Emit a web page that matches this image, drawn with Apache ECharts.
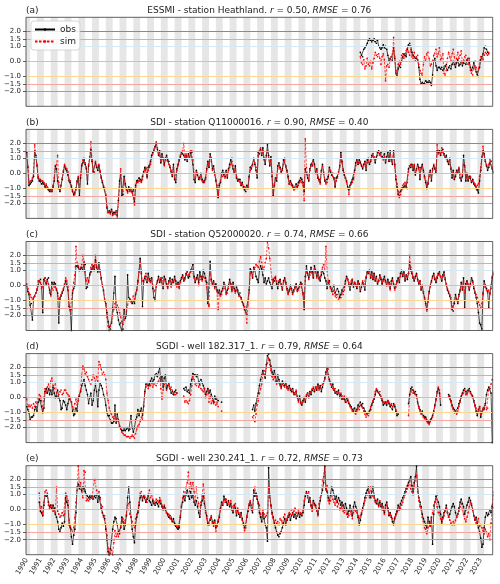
<!DOCTYPE html>
<html><head><meta charset="utf-8">
<script src="https://cdn.jsdelivr.net/npm/echarts@6/dist/echarts.min.js"></script>
<style>html,body{margin:0;padding:0;background:#fff}#c{width:500px;height:584px}</style>
</head><body><div id="c"></div>
<script>
// ---------------- data ----------------
const years = [1990,1991,1992,1993,1994,1995,1996,1997,1998,1999,2000,2001,2002,2003,2004,2005,2006,2007,2008,2009,2010,2011,2012,2013,2014,2015,2016,2017,2018,2019,2020,2021,2022,2023];
const panelLetters = ['(a)','(b)','(c)','(d)','(e)'];
const panelNames = ['ESSMI - station Heathland.','SDI - station Q11000016.','SDI - station Q52000020.','SGDI - well 182.317_1.','SGDI - well 230.241_1.'];
const rValues = ['0.50','0.90','0.74','0.79','0.72'];
const rmseValues = ['0.76','0.40','0.66','0.64','0.73'];
const yTickValues = [-2,-1.5,-1,0,1,1.5,2];
const thresholdLevels = [2,1.5,1,0,-1,-1.5,-2];
const legendNames = ['obs','sim'];

// panel (a) starts April 2014 (monthly)
const startA = [2014,4];
const obsA = [0.6,0.4,0.3,0.8,0.9,1.0,1.2,1.4,1.5,1.4,1.3,1.4,
1.5,1.3,1.2,1.4,1.0,0.9,0.8,0.9,1.1,0.9,1.0,0.8,
0.4,0.0,0.2,0.3,0.0,1.0,0.2,-0.8,-1.0,-0.5,-0.3,-0.4,
0.0,0.3,0.5,0.4,0.3,0.8,1.1,1.2,1.0,0.6,0.4,0.3,
0.2,0.2,0.1,-0.4,-1.2,-1.5,-1.4,-1.5,-1.5,-1.3,-1.4,-1.4,
-1.3,-1.4,-1.6,-0.9,0.0,0.2,-0.3,-0.6,-0.4,-0.4,-0.5,-0.4,
-0.6,-0.5,-0.3,-0.2,-0.6,-0.4,-0.3,-0.5,-0.2,0.0,-0.2,-0.4,
-0.1,0.1,-0.3,-0.2,0.0,-0.3,-0.1,0.0,-0.2,0.1,0.2,-0.1,
-0.4,-0.6,-0.4,-0.1,0.0,-0.7,-0.9,-1.0,-0.4,0.1,0.3,0.5,
0.9,1.0,0.8,0.6,0.5];
const simA = [0.3,-0.1,-0.2,0.1,-0.5,-0.3,0.2,-0.2,-0.3,0.0,-0.5,-0.1,
0.2,0.6,0.4,0.3,0.5,0.2,-0.2,0.3,0.5,0.1,-1.3,-0.3,
-0.2,-0.4,0.1,0.3,0.5,1.6,0.3,-0.8,-0.6,-0.2,0.0,-0.2,
0.4,0.5,0.2,0.5,0.7,1.0,0.6,0.4,0.8,0.3,0.2,0.6,
0.0,0.3,0.4,-0.2,-0.6,-0.8,-1.0,-0.2,0.3,0.0,0.5,0.6,
0.2,-0.3,-0.2,0.0,0.4,0.5,0.8,0.3,0.5,0.9,0.1,0.2,
0.5,-0.8,-1.0,-0.6,0.2,0.6,0.3,0.0,0.5,0.8,0.3,-0.2,
0.2,0.6,0.2,0.4,0.7,-0.1,0.0,0.3,0.4,0.0,-0.2,0.2,
-0.6,-0.8,-0.9,-0.5,-0.3,-0.4,-0.7,-0.5,0.0,0.3,0.2,0.1,
0.4,0.6,0.5,0.4,0.6];

// panels (b)-(e): monthly Jan 1990 - Dec 2023, one row per year
const obsB = [
1.4,0.4,-0.8,-0.7,-0.6,-0.5,-0.2,1.5,1.2,0.5,-0.3,-0.5,
-0.5,-0.7,-0.6,-0.7,-0.9,-0.8,-1.0,-1.1,-1.2,-1.1,-1.2,-0.9,
-0.5,0.5,0.3,-0.5,-1.0,-1.2,-0.8,-0.4,0.1,0.5,0.3,0.2,
-0.1,-0.5,-0.6,-0.9,-1.2,-1.4,-1.3,-1.0,-0.5,-0.3,-1.5,-0.3,
0.5,0.7,0.9,0.6,0.3,-0.7,0.5,1.0,1.6,0.8,0.1,0.0,
0.7,0.4,0.2,0.5,0.1,-0.3,-0.6,-0.9,-1.0,-1.5,-2.3,-2.6,
-2.5,-2.6,-2.4,-2.7,-2.6,-2.6,-2.5,-2.8,-1.8,-0.5,0.0,-1.5,
-1.4,-0.2,-0.7,-1.0,-1.2,-0.9,-1.1,-1.0,-1.2,-1.1,-1.9,-0.8,
-0.5,-0.5,-0.3,-0.4,-0.5,-0.2,0.1,0.4,0.3,-0.2,0.4,0.5,
0.8,1.2,1.4,1.5,1.8,2.0,1.6,1.2,1.5,0.7,1.3,1.0,
0.6,1.0,1.2,0.9,0.8,0.4,0.1,-0.2,0.6,-0.4,-0.6,0.3,
0.6,0.9,1.1,1.4,1.3,1.2,0.9,1.2,0.8,1.3,1.0,1.4,
1.4,0.6,-0.4,-0.6,0.2,-0.1,-0.4,-0.3,0.0,-0.4,-0.6,-0.5,
-0.3,0.3,0.8,0.4,1.3,1.0,0.3,0.5,0.0,-0.5,-1.0,-1.6,
-0.8,-0.6,0.0,0.2,-0.1,-0.2,0.2,-0.3,0.3,0.6,0.9,1.0,
0.3,0.0,0.5,-0.3,-0.5,-0.4,-0.4,-0.8,-0.6,-0.9,-1.1,-1.2,
-0.8,-1.0,-0.2,0.4,0.3,0.6,1.0,0.6,0.2,-0.3,1.4,1.3,
1.6,1.2,1.7,1.0,0.6,1.2,1.9,1.2,0.5,1.1,-0.2,-1.5,
-0.8,-0.3,-0.5,0.5,0.7,0.4,0.1,0.3,0.9,1.0,0.5,0.2,
-0.2,-0.7,-0.5,-0.7,-0.8,-1.0,-1.0,-0.7,-0.9,-0.6,-0.5,-0.3,
-0.4,-0.6,-1.2,0.3,0.0,-0.3,-0.5,0.3,0.6,0.5,0.9,0.6,
0.0,0.3,-0.3,-0.4,-0.6,0.2,0.6,0.0,-0.5,-0.6,-0.4,-0.2,
0.4,0.1,-0.1,0.0,-0.3,-0.9,-0.3,-0.2,0.0,0.5,1.4,0.8,
0.2,-0.1,-0.3,-0.5,-0.9,-1.1,-0.8,-0.6,-0.4,-0.3,0.2,0.7,
0.9,0.6,0.9,0.7,0.5,0.3,0.6,0.8,0.2,0.9,1.0,0.6,
0.8,1.2,1.3,1.0,0.7,1.1,1.4,1.5,1.3,1.4,1.1,1.0,
1.3,0.7,1.1,1.4,0.8,1.5,0.9,0.6,1.5,0.6,-0.4,-0.9,
-1.4,-1.5,-1.2,-1.0,-1.0,-0.9,-0.8,-0.9,-1.0,0.3,0.5,0.4,
0.6,0.2,0.5,-0.1,0.3,0.6,0.4,-0.4,0.4,0.6,0.2,-0.2,
-0.6,-1.0,-0.7,0.0,0.2,-0.5,0.3,0.5,0.3,0.0,1.5,1.4,
1.5,1.2,1.5,1.6,1.3,1.0,1.2,0.8,0.6,1.0,0.3,-0.3,
0.2,-0.4,-0.2,0.2,0.0,0.3,-0.3,-0.5,-0.2,1.2,0.5,-0.5,
0.0,-0.5,-0.2,-0.3,-0.6,-0.4,-0.7,-0.8,-1.0,-1.1,-1.3,-0.5,
0.2,1.0,1.5,1.3,0.8,0.5,0.2,0.4,0.7,0.8,0.3,0.0];
const simB = [
1.3,0.5,-0.6,-0.5,-0.5,-0.3,0.0,1.9,1.0,0.6,-0.2,-0.4,
-0.4,-0.5,-0.5,-0.6,-0.8,-0.7,-0.9,-1.0,-1.1,-1.2,-1.1,-0.8,
-0.3,0.3,0.6,1.2,-0.6,-1.1,-0.8,-0.3,0.2,0.6,0.4,0.3,
0.1,-0.4,-0.5,-0.8,-1.1,-1.5,-1.4,-1.1,-0.6,-0.2,-1.0,-0.1,
0.6,0.9,1.0,0.7,0.4,-0.4,0.6,1.1,2.1,0.9,0.2,0.1,
0.8,0.5,0.4,0.6,0.2,-0.2,-0.5,-0.8,-1.0,-1.4,-2.2,-2.6,
-2.6,-2.7,-2.5,-2.8,-2.7,-2.7,-2.6,-2.9,-2.0,-0.7,0.3,-1.0,
-1.2,-0.4,-0.8,-1.1,-1.3,-1.0,-1.2,-1.1,-1.3,-1.2,-2.1,-0.9,
-0.6,-0.6,-0.5,-0.5,-0.6,-0.4,0.0,0.2,0.4,-0.3,0.2,0.4,
0.6,1.0,1.3,1.6,1.7,2.1,1.7,1.3,1.2,0.8,1.1,0.9,
0.5,0.9,1.0,0.8,0.6,0.5,0.2,-0.1,0.4,-0.3,-0.4,0.2,
0.5,0.8,1.2,1.3,1.5,2.0,1.1,1.3,0.9,1.2,1.1,1.5,
1.5,0.9,0.0,-0.4,0.1,0.0,-0.3,-0.4,-0.2,-0.5,-0.5,-0.6,
-0.4,0.2,0.7,0.5,1.1,0.8,0.2,0.3,-0.1,-0.4,-0.8,-1.4,
-0.7,-0.5,-0.1,-0.2,0.0,-0.3,0.0,-0.2,0.2,0.4,0.6,0.8,
0.5,0.1,0.3,-0.2,-0.4,-0.5,-0.6,-0.7,-0.7,-1.0,-0.9,-1.0,
-1.0,-0.9,-0.3,0.2,0.4,0.5,0.9,0.7,0.4,0.0,1.2,1.5,
1.7,1.3,1.5,0.9,0.8,1.0,1.5,1.0,0.6,0.9,0.0,-1.3,
-0.7,-0.4,-0.3,0.3,0.5,0.3,0.0,0.2,0.6,0.9,0.4,0.1,
-0.3,-0.7,-0.6,-0.8,-0.9,-1.1,-1.0,-0.9,-1.0,-0.8,-0.6,-0.5,
-0.6,-0.8,-1.8,2.3,0.4,-0.1,-0.4,0.2,0.5,0.6,0.8,0.5,
0.1,0.2,-0.2,-0.5,-0.7,0.1,0.5,0.1,-0.4,-0.7,-0.6,-0.3,
0.3,0.2,0.0,-0.2,-0.4,-0.8,-0.5,-0.3,0.1,0.4,1.2,0.7,
0.3,0.0,-0.3,-0.6,-1.0,-1.4,-1.0,-0.7,-0.6,-0.4,0.0,0.5,
0.8,0.7,0.7,0.8,0.6,0.4,0.5,0.7,0.4,0.7,0.9,0.7,
0.9,1.0,1.2,1.1,0.9,1.0,1.2,1.4,1.2,1.3,1.0,0.9,
1.1,0.8,1.0,1.2,0.9,1.3,0.8,0.7,1.3,0.5,-0.2,-0.7,
-1.2,-1.6,-1.4,-1.1,-0.8,-0.7,-0.6,-0.8,-0.6,0.1,0.5,0.6,
0.5,0.4,0.6,0.0,0.2,0.5,0.3,-0.2,0.3,0.5,0.1,-0.3,
-0.5,-0.8,-0.6,-0.2,0.1,-0.3,0.2,0.6,0.4,0.2,1.9,1.3,
1.4,1.3,1.7,1.4,1.2,1.1,1.0,0.9,0.8,0.9,0.4,0.0,
0.0,-0.3,0.0,0.1,0.2,0.4,0.0,-0.3,-0.1,0.6,0.4,-0.3,
-0.1,-0.4,-0.3,-0.2,-0.5,-0.5,-0.6,-0.7,-0.9,-0.8,-0.7,-0.2,
0.4,1.1,1.8,1.2,0.9,0.6,0.4,0.6,0.9,0.8,0.4,0.1];
const obsC = [
0.0,-0.4,-0.6,-1.3,-1.2,-2.3,-0.8,-0.7,-0.5,-0.3,0.0,0.3,
0.4,0.0,-1.8,0.4,0.5,0.1,0.4,0.5,-0.3,-0.6,0.2,0.0,
0.2,0.1,-0.3,-0.5,-2.5,-0.9,-0.7,-0.5,-0.3,0.0,0.3,0.0,
-0.3,-1.4,-1.6,-3.0,-0.5,-0.2,0.0,1.3,1.3,1.2,1.0,1.1,
1.2,1.0,1.5,1.4,-0.2,-0.1,0.3,0.7,0.9,1.1,1.3,1.0,
1.7,1.2,0.9,1.5,1.0,0.5,0.0,-0.3,-1.0,-1.2,-1.8,-2.4,
-2.8,-2.9,-2.5,-1.5,-0.5,0.6,-1.5,-1.8,-2.3,-2.6,-2.5,-3.0,
-2.9,-1.6,-2.2,-2.0,0.7,-0.8,-0.9,-1.0,-1.2,-1.0,-1.2,-0.6,
-0.3,0.3,1.0,1.8,0.8,-1.4,0.3,0.5,0.6,0.2,0.8,0.4,
0.3,0.5,-0.2,-0.8,-1.0,0.0,0.3,0.6,0.2,0.4,0.5,-0.2,
0.6,0.4,0.1,-0.1,0.3,0.5,0.0,0.4,0.2,0.6,0.3,0.0,
0.2,-0.1,0.3,0.5,0.7,0.3,0.5,0.8,0.9,0.5,0.6,1.0,
1.0,1.4,0.6,0.2,0.5,0.7,0.2,0.9,0.6,0.4,1.0,0.8,
0.5,0.2,-1.2,-1.3,1.6,0.4,0.1,0.3,-0.1,0.1,-0.3,-0.5,
-0.3,-0.6,-0.4,-0.2,0.2,0.0,-0.5,-0.3,0.0,0.4,0.1,-0.3,
0.2,-0.2,-0.4,-0.1,-0.3,-0.6,-0.5,-0.8,-1.1,-1.3,-1.6,-1.8,
-1.9,-1.0,-0.3,1.1,0.9,0.5,1.2,1.0,0.6,0.4,0.2,1.0,
1.3,1.1,0.7,0.2,0.5,0.1,0.3,0.5,0.2,0.0,-0.2,0.4,
0.3,0.5,0.1,-0.2,0.2,0.4,0.0,-0.3,0.3,0.5,0.2,-0.2,
-0.5,-0.3,0.0,-0.2,-0.5,-0.3,-0.1,0.1,-0.3,-0.2,0.0,0.2,
0.1,-0.5,-1.6,0.6,1.3,0.8,0.5,0.9,1.2,0.9,0.5,1.3,
1.0,0.6,0.9,0.5,0.3,0.7,1.0,0.8,0.5,0.3,-0.2,0.2,
0.3,-0.1,-0.3,-0.4,0.0,-0.5,-0.6,-0.2,-0.4,-0.8,-0.6,-0.3,
-0.4,-0.1,0.3,0.6,0.4,0.0,-0.3,0.1,0.4,-0.1,0.2,0.0,
-0.2,0.3,0.1,-0.4,-0.1,0.2,0.0,-0.3,0.5,0.9,0.8,1.0,
0.5,0.9,0.4,0.8,0.3,0.6,0.1,0.3,0.7,0.4,0.1,0.4,
0.6,0.3,0.0,0.4,0.2,-0.2,0.3,0.5,0.1,-0.2,0.0,0.3,
0.5,0.2,0.8,1.0,0.6,0.9,0.3,0.7,0.4,0.8,1.5,1.0,
0.8,0.5,0.3,0.6,0.8,0.4,0.1,0.3,-0.3,0.0,-0.5,-0.8,
-1.2,-1.6,-1.0,-0.4,0.0,0.3,0.6,0.8,0.4,0.2,0.5,0.8,
0.9,0.6,0.3,0.7,0.9,0.4,0.0,-0.3,-0.5,-0.7,-1.0,-1.6,
-1.7,-1.2,-0.6,-0.9,-1.2,-0.6,-0.3,0.2,-0.3,0.5,-1.5,0.1,
0.3,0.0,-0.3,0.1,0.5,0.3,-0.2,-0.5,-0.8,-1.2,-1.8,-2.5,
-2.6,-2.9,-0.5,0.3,0.0,-0.2,-0.4,-1.5,-0.5,0.0,0.5,0.8];
const simC = [
0.1,-0.2,-0.5,-0.6,-0.8,-0.9,-0.8,-0.7,-0.5,-0.2,0.3,0.3,
0.2,-0.2,-0.1,0.3,0.5,0.2,0.3,0.1,-0.5,-0.7,-0.2,-0.3,
-0.1,0.0,-0.2,-0.7,-0.9,-0.8,-0.6,-0.4,-0.2,0.1,0.5,0.3,
-0.1,-1.3,-1.7,-1.6,-0.3,0.2,0.7,2.6,1.5,1.3,1.0,1.2,
1.4,2.0,1.6,0.9,0.3,0.5,0.2,0.8,1.2,1.4,1.0,1.2,
2.0,1.3,1.0,1.2,0.9,0.4,0.0,-0.4,-0.9,-1.3,-2.1,-2.7,
-3.0,-2.7,-2.4,-2.0,-1.6,-1.2,-1.1,-1.3,-1.5,-1.8,-2.1,-2.4,
-2.6,-2.3,-2.0,-1.7,-1.3,-1.0,-0.9,-1.1,-1.0,-0.7,-0.9,-0.5,
-0.3,0.2,0.9,1.5,0.9,0.3,0.2,0.6,0.8,0.4,0.5,0.3,
0.2,0.4,0.0,-0.4,-0.3,-0.1,0.2,0.4,0.3,0.5,0.3,0.0,
0.4,0.3,0.0,-0.2,0.2,0.3,-0.1,0.2,0.3,0.4,0.1,-0.1,
0.1,-0.2,0.2,0.4,0.6,0.3,0.4,0.7,0.9,0.7,0.8,0.9,
1.1,1.0,0.5,0.3,0.4,0.5,0.0,0.6,0.4,0.3,0.6,0.5,
0.3,-0.1,-0.8,-1.4,0.8,0.3,0.0,0.2,-0.2,-0.1,-0.4,-1.6,
-0.5,-0.7,-0.6,-0.3,0.0,-0.2,-0.6,-0.5,-0.2,0.2,0.0,-0.4,
0.0,-0.3,-0.5,-0.3,-0.4,-0.7,-0.7,-0.9,-1.0,-1.2,-1.4,-1.8,
-2.5,-1.3,-0.5,0.8,1.0,0.6,1.1,1.2,1.4,1.3,1.2,1.6,
1.9,1.5,1.2,1.0,1.5,1.8,2.9,2.5,1.8,1.0,0.4,0.2,
0.5,0.6,0.3,0.0,0.3,0.3,0.1,-0.2,0.2,0.4,0.1,-0.3,
-0.6,-0.4,-0.2,-0.3,-0.6,-0.4,-0.2,-0.1,-0.4,-0.3,-0.1,0.1,
0.0,-0.6,-1.1,0.3,0.9,0.7,0.4,0.7,1.0,0.8,0.6,1.1,
0.9,0.5,0.7,0.4,0.6,0.9,1.2,1.4,1.0,2.6,1.0,0.3,
0.2,-0.2,-0.4,-0.6,-0.3,-0.7,-0.8,-0.6,-0.9,-1.0,-0.8,-0.5,
-0.6,-0.3,0.1,0.5,0.4,0.2,0.0,0.3,0.4,0.0,0.2,0.1,
-0.1,0.2,0.0,-0.3,0.0,0.3,0.1,0.0,0.6,0.8,0.9,1.0,
0.6,0.8,0.5,0.7,0.4,0.5,0.2,0.3,0.6,0.5,0.2,0.3,
0.4,0.2,0.0,0.2,0.1,-0.3,0.1,0.3,0.0,-0.3,-0.1,0.2,
0.4,0.3,0.6,0.8,0.7,0.8,0.4,0.6,0.6,0.8,2.0,1.2,
0.9,0.6,0.4,0.5,0.7,0.3,0.2,0.3,-0.2,-0.1,-0.4,-0.9,
-1.3,-1.7,-1.1,-0.5,-0.1,0.2,0.5,0.7,0.5,0.3,0.6,0.7,
0.8,0.6,0.4,0.6,0.7,0.5,0.1,-0.2,-0.4,-0.6,-0.8,-1.4,
-1.5,-1.0,-0.8,-0.9,-1.1,-0.7,-0.4,0.0,-0.2,0.3,-0.5,0.0,
0.2,0.1,-0.2,0.0,0.4,0.2,-0.1,-0.4,-0.6,-0.8,-1.1,-1.3,
-1.5,-1.2,-0.6,0.0,-0.1,-0.3,-0.5,-0.3,-0.6,-0.2,0.6,1.0];
const obsD = [
-0.6,-0.8,-1.0,-1.5,-1.3,-1.3,-1.2,-0.8,-0.6,-0.9,-0.3,-0.1,
-0.2,-0.6,-1.0,-0.7,0.4,0.6,0.3,0.6,0.2,0.5,0.2,0.7,
0.3,0.0,0.1,0.5,0.0,-0.2,-0.8,-0.7,-0.2,-0.3,-0.5,-0.8,
-0.4,-0.1,0.0,-0.3,-0.9,-1.2,-1.1,-0.7,-0.9,0.0,0.1,0.4,
0.8,1.0,1.2,0.8,0.5,0.2,-0.4,0.0,0.3,-0.5,-0.2,0.5,
0.8,0.4,-0.6,0.5,1.0,0.8,0.6,0.2,0.0,-0.5,-1.0,-1.2,
-1.2,-1.5,-1.7,-1.7,-1.6,-0.5,-1.7,-1.1,-1.5,-1.9,-2.1,-2.2,
-2.2,-2.1,-2.2,-2.1,-2.0,-2.2,-2.1,-1.2,-2.0,-2.3,-2.0,-1.5,
-1.3,-0.8,-1.2,-0.9,-0.7,-1.2,-0.6,0.4,0.9,1.0,0.8,0.9,
1.1,1.3,1.0,1.2,1.5,1.6,1.4,1.7,2.0,1.0,1.4,0.7,
1.3,1.5,0.6,0.8,1.0,0.6,0.3,0.4,0.2,0.4,0.5,0.3,
null,null,null,null,null,0.6,0.5,0.7,0.4,0.5,0.3,0.9,
1.2,1.6,1.5,1.5,1.4,1.5,1.0,0.9,1.2,1.0,0.8,0.6,
0.2,0.4,0.6,0.3,0.5,0.2,0.0,-0.3,0.1,-0.1,0.0,-0.2,
null,null,-0.3,null,null,null,null,null,null,null,null,null,
null,null,null,null,null,null,null,null,null,null,null,null,
null,null,null,null,null,-0.8,-0.5,-0.9,-0.4,0.0,0.3,0.8,
1.2,1.5,1.8,1.5,1.3,2.2,2.8,2.9,2.5,2.1,1.7,1.5,
1.8,1.4,1.0,1.5,1.2,0.9,0.7,1.1,1.0,0.8,1.0,0.7,
0.6,0.8,0.5,0.4,0.6,0.3,0.2,0.4,0.0,-0.2,0.1,-0.3,
-0.5,-0.2,0.0,-0.3,0.1,0.3,0.0,0.4,0.2,0.5,0.6,0.4,
0.7,0.5,0.9,0.6,0.8,0.4,0.7,1.0,1.3,1.7,2.0,1.5,
1.2,1.0,0.7,0.9,0.5,0.3,0.4,0.2,0.5,0.0,0.2,-0.1,
0.0,-0.1,-0.3,0.0,-0.2,-0.4,-0.5,-0.6,-0.8,-0.9,-0.7,-1.0,
-0.8,-0.5,-0.6,-0.3,-0.5,-0.4,-0.7,-0.9,-1.0,-1.1,-1.0,-0.9,
-0.8,-0.5,-0.3,-0.1,0.2,0.5,0.4,0.3,0.2,0.0,-0.2,-0.5,
-0.4,-0.3,-0.5,-0.2,-0.4,-0.6,-0.5,-0.8,-0.4,-0.6,-0.9,-1.2,
-1.1,null,null,null,null,null,null,null,null,-0.4,0.2,0.6,
0.7,0.5,0.3,0.4,0.2,-0.3,-0.6,-0.8,-1.0,-0.9,-1.2,-1.3,
-1.3,-1.5,-1.6,-1.7,-1.5,-1.4,-1.2,-0.9,-0.5,-0.1,0.4,0.6,
0.3,-0.5,null,null,null,null,null,null,0.2,0.1,-0.2,-0.5,
-0.7,-0.8,-0.9,-1.0,-0.7,-0.4,-0.2,0.1,0.3,0.5,0.6,0.4,
0.3,0.5,0.6,0.4,0.2,0.1,-0.2,-0.5,-0.9,-1.2,-0.8,-0.6,
-1.3,-1.0,-0.8,-0.7,-0.4,0.2,0.5,0.7,0.6,0.3,-3.0,null];
const simD = [
-0.1,-0.6,-0.5,-0.6,-0.5,-0.7,-0.4,-0.6,-0.3,-0.4,0.0,0.2,
0.1,-0.2,-0.8,0.0,0.6,0.3,0.7,0.9,0.5,1.1,1.3,0.8,
0.6,1.0,0.3,0.0,0.2,0.4,0.5,0.2,0.3,0.5,0.5,0.3,
0.2,0.1,-0.1,-0.3,-0.6,-0.8,-0.4,-0.1,-0.5,-0.2,0.2,0.5,
1.5,2.1,1.9,1.6,1.7,1.4,1.2,1.0,0.9,1.2,1.5,1.3,
1.0,1.4,1.1,2.4,2.2,1.9,1.5,1.7,1.5,1.2,0.3,-0.2,
-0.7,-1.0,-1.1,-1.3,-1.4,-1.2,-1.5,-1.4,-1.6,-1.9,-2.1,-2.3,
-2.4,-2.5,-2.5,-2.6,-2.6,-2.6,-2.7,-2.6,-2.5,-2.6,-2.7,-2.4,
-2.1,-1.9,-1.8,-1.6,-1.3,-1.5,-0.5,0.3,0.7,0.9,0.6,0.8,
0.8,1.0,0.7,0.9,1.0,0.8,1.0,1.1,1.3,0.6,-0.1,0.5,
0.9,1.0,0.5,0.7,0.9,0.6,0.7,0.5,0.3,0.2,0.2,0.3,
null,null,null,null,null,0.1,-0.3,-0.2,-0.3,-0.4,-0.2,0.2,
0.8,1.4,1.2,0.9,0.8,1.0,0.7,0.8,0.6,0.5,0.4,0.6,
0.0,0.2,0.5,-0.3,0.1,-0.4,-0.2,-0.4,-0.3,-0.5,-0.3,-0.6,
null,null,-0.9,null,null,null,null,null,null,null,null,null,
null,null,null,null,null,null,null,null,null,null,null,null,
null,null,null,null,null,-1.3,-1.2,-1.6,-1.1,-0.5,-0.2,0.3,
0.6,0.9,1.6,1.8,1.5,2.0,2.3,2.6,2.2,1.8,1.4,1.2,
1.4,1.1,0.9,1.1,1.0,0.8,0.6,0.9,0.8,0.7,0.9,0.6,
0.5,0.7,0.6,0.5,0.4,0.2,0.3,0.5,0.1,-0.3,0.0,-0.4,
-0.4,-0.3,0.0,-0.2,0.2,0.3,0.1,0.3,0.4,0.6,0.7,0.5,
0.7,0.6,0.8,0.5,0.7,0.6,0.9,1.0,1.2,1.5,1.8,1.9,
1.1,0.9,0.8,0.6,0.5,0.6,0.3,0.4,0.3,0.2,0.3,0.1,
-0.1,0.1,-0.2,-0.3,-0.1,-0.3,-0.6,-0.7,-0.9,-0.8,-1.0,-1.1,
-0.9,-0.7,-0.8,-0.5,-0.6,-0.7,-0.9,-1.1,-1.3,-1.1,-1.2,-1.0,
-0.6,-0.4,-0.2,0.0,0.4,0.6,0.5,0.3,0.4,0.1,-0.1,-0.3,
-0.3,-0.4,-0.3,-0.2,-0.3,-0.5,-0.4,-0.6,-0.5,-0.5,-0.8,-1.0,
-1.0,null,null,null,null,null,null,null,null,-1.2,0.0,0.4,
0.5,0.3,0.4,0.2,0.0,-0.4,-0.7,-0.9,-1.1,-1.0,-1.3,-1.4,
-1.4,-1.6,-1.7,-1.8,-1.6,-1.5,-1.3,-1.0,-0.6,-0.2,0.3,0.7,
0.5,0.0,null,null,null,null,null,null,0.1,-0.1,-0.3,-0.6,
-0.8,-1.0,-0.9,-1.1,-0.9,-0.6,-0.3,0.0,0.2,0.3,0.5,0.2,
0.2,0.4,0.5,0.3,0.2,0.0,-0.3,-0.6,-0.7,-1.0,-0.9,-0.6,
-1.1,-0.9,-0.7,-0.8,-0.5,-0.8,-0.7,0.5,0.6,0.9,1.2,null];
const obsE = [
null,null,null,null,null,null,null,null,null,null,null,0.5,
-0.1,-0.2,-0.4,0.3,1.0,0.9,1.0,0.5,0.2,0.3,0.1,0.3,
0.1,-0.3,-0.5,-0.8,-1.3,-1.5,-1.2,-0.9,-1.1,-0.8,0.8,0.5,
0.3,-1.0,-1.2,-1.8,-2.3,-1.7,-1.3,-0.2,1.5,1.7,1.4,1.5,
1.3,1.5,1.4,1.2,1.0,0.9,0.8,0.9,0.8,0.9,0.7,0.9,
0.8,1.0,0.5,0.9,0.8,0.1,-0.2,-0.4,-0.6,-1.3,-2.0,-2.8,
-3.0,-2.6,-2.0,-1.3,-0.8,-0.5,-0.6,-1.0,-1.5,-1.6,-1.2,-0.5,
-0.8,-1.3,-1.0,-0.4,0.8,1.5,0.5,-0.5,-1.3,-1.8,-2.2,-1.0,
-0.5,-0.2,0.3,0.8,1.0,0.6,0.9,0.8,0.5,0.7,1.0,0.6,
0.5,0.3,0.6,0.4,0.3,0.5,0.4,0.2,0.6,0.4,0.2,0.0,
0.2,0.0,-0.2,-0.3,-0.5,-0.4,-0.6,-0.8,-0.6,-0.9,-1.1,-1.2,
-1.3,-1.2,-0.5,0.2,0.5,0.9,0.6,1.0,1.3,0.9,0.7,1.2,
0.8,1.0,0.5,0.3,0.6,0.2,-0.2,-0.5,0.3,0.6,0.9,0.4,
0.0,-0.4,-0.9,-1.0,-0.7,-0.5,-0.8,-0.9,-0.7,-1.2,-1.0,-0.8,
-0.5,0.1,0.5,0.3,0.9,0.7,0.5,0.3,0.6,0.2,0.4,0.0,
-0.2,0.3,0.1,-0.4,0.0,-0.3,-0.5,-0.2,-0.6,-0.9,-1.2,-1.0,
-0.5,-0.1,0.3,0.5,0.0,-0.2,1.3,0.9,1.1,0.7,0.4,-0.2,
-0.5,-0.8,-0.2,-0.6,-1.0,-1.2,-2.1,2.8,1.0,0.3,-0.2,-0.5,
-0.9,-1.2,-1.5,-1.7,-1.8,-1.6,-1.5,-1.2,-0.9,-0.6,-1.0,-0.7,
-0.5,-0.3,-0.7,-0.4,-0.2,-0.5,-0.3,-0.6,-0.4,-0.2,-0.5,-0.3,
-0.4,-0.2,0.3,0.9,1.2,1.0,0.5,0.8,0.3,0.1,0.6,0.4,
0.3,0.0,-0.3,0.1,0.6,1.0,1.3,1.8,2.9,1.4,1.2,0.8,
0.6,1.0,1.5,1.3,1.0,0.7,0.9,0.5,0.8,0.6,0.3,0.5,
0.3,0.0,0.4,0.1,-0.3,-0.1,0.3,0.0,-0.4,0.2,0.5,0.2,
0.0,-0.5,-1.0,-0.7,-0.3,0.1,0.4,0.8,1.1,1.3,1.5,1.0,
0.8,1.2,1.5,1.0,0.6,0.4,0.7,0.3,0.5,0.2,0.4,0.0,
-0.2,0.3,0.5,0.1,-0.4,-0.2,-0.5,-0.8,-1.0,-0.6,-0.3,-0.1,
0.3,0.0,0.4,0.6,0.8,1.0,1.2,1.4,1.6,1.8,2.0,2.2,
1.6,1.2,1.8,2.2,2.9,1.5,0.8,0.5,0.2,-0.3,-0.6,-0.8,
-1.0,-1.2,-0.5,-0.8,-1.1,-0.5,-2.3,-0.3,0.5,0.9,1.0,0.5,
0.2,-0.3,-0.8,-0.5,-0.2,0.0,0.3,-0.2,-0.5,-0.3,0.0,0.2,
0.4,0.2,-0.2,-0.5,-0.3,0.1,0.5,0.7,0.4,0.2,-0.3,0.0,
0.3,0.5,0.8,0.6,0.3,0.0,-0.4,-0.7,-0.5,-0.9,-1.2,-1.5,
-1.9,-2.5,-2.3,-1.2,-0.5,-0.2,-0.4,-0.3,0.0,-0.2,0.2,0.1];
const simE = [
null,null,null,null,null,null,null,null,null,null,null,1.1,
0.0,0.2,-0.3,0.5,1.2,1.3,1.1,0.3,0.1,0.2,0.3,-0.1,
0.0,-0.2,1.5,-0.1,-0.3,-0.5,-0.4,-0.2,-0.4,-0.3,1.1,0.9,
0.6,-0.7,-1.1,-1.3,-1.5,-1.2,-0.5,0.5,1.3,2.9,1.5,1.8,
1.2,0.8,2.6,2.5,0.6,0.7,0.6,0.7,1.0,0.8,0.7,2.0,
2.0,1.3,1.0,1.2,0.7,0.3,0.2,-0.5,-0.4,-1.0,-1.7,-2.6,
-3.0,-2.9,-2.7,-3.0,-2.2,-1.4,-1.8,-1.6,-1.8,-1.4,-1.1,-0.8,
-0.6,-0.9,-0.7,-0.3,0.3,0.4,-0.3,-0.5,-0.8,-1.0,-1.2,-0.6,
-0.3,-0.1,0.5,1.1,1.2,0.8,1.0,0.9,0.6,0.5,1.0,1.3,
0.8,1.0,0.7,0.5,0.4,0.7,0.6,0.5,0.8,0.6,0.3,0.1,
0.3,0.1,-0.2,-0.4,-0.3,-0.6,-0.5,-0.7,-0.8,-1.0,-1.0,-1.1,
-1.0,-1.1,-0.4,0.3,0.8,1.2,0.9,1.5,1.8,2.5,1.2,1.8,
1.4,1.8,1.2,0.6,1.5,0.8,0.4,-0.3,0.5,0.9,1.7,1.0,
-0.2,-0.6,-1.0,-0.9,-0.6,-0.4,-0.9,-1.1,-0.8,-1.5,-1.1,-0.7,
-0.4,0.0,0.3,0.4,0.6,0.5,0.7,0.4,0.5,0.3,0.6,0.2,
-0.1,0.2,0.4,-0.2,0.1,-0.2,-0.4,-0.3,-0.7,-1.0,-1.4,-1.2,
-0.4,0.0,0.4,0.6,0.3,0.0,1.0,1.5,1.0,0.9,0.5,0.3,
-0.3,-0.5,0.0,-0.3,-0.5,-0.4,-0.2,1.5,0.8,0.2,-0.3,-0.6,
-0.8,-0.7,-0.9,-0.8,-1.0,-0.6,-0.7,-0.9,-0.5,-0.3,-0.8,-0.6,
-0.4,-0.2,-0.3,0.0,-0.3,-0.1,0.1,-0.2,-0.4,0.0,-0.3,-0.2,
-0.3,0.0,0.6,1.0,1.1,0.8,1.2,0.6,0.2,-0.1,0.5,0.3,
0.2,-0.1,-0.4,0.4,0.8,1.0,2.0,2.2,3.0,1.3,1.6,0.6,
0.4,0.6,1.0,0.7,0.5,0.3,0.6,0.2,0.4,0.0,0.1,0.2,
-0.1,-0.2,0.0,-0.3,-0.5,-0.4,-0.1,-0.3,-0.6,-0.2,0.0,-0.1,
-0.2,-0.4,-0.6,-0.4,-0.2,0.0,0.3,0.6,0.8,1.0,1.2,0.8,
1.5,1.0,0.9,0.8,0.5,0.6,0.4,0.2,0.6,0.3,0.0,0.2,
-0.3,0.1,0.3,0.0,-0.3,-0.3,-0.4,-0.6,-0.8,-0.5,-0.4,-0.2,
0.0,0.2,0.1,0.3,0.5,0.8,1.0,1.2,1.4,1.6,1.9,1.4,
1.2,1.0,1.5,2.0,2.3,1.2,0.6,0.2,0.0,-0.5,-0.8,-1.2,
-1.3,-1.6,-1.2,-0.9,-1.1,-0.6,-0.2,0.3,0.5,0.7,0.2,-0.2,
-0.2,-0.6,-0.9,-0.6,-0.4,-0.1,0.1,-0.2,-0.5,-0.7,-0.9,-1.0,
-0.8,-1.0,-0.7,-0.5,-0.3,-0.1,0.2,0.4,0.0,-0.3,-0.6,-0.8,
-0.5,-0.2,0.2,0.5,0.4,0.0,-0.4,-0.7,-0.9,-0.8,-0.6,-1.1,
-1.0,-1.2,-1.4,-1.6,-1.3,-1.5,-1.8,-1.6,-2.0,-0.9,0.3,1.2];

const panels = [
  {obs: obsA, sim: simA, start: startA},
  {obs: obsB, sim: simB, start: [1990,1]},
  {obs: obsC, sim: simC, start: [1990,1]},
  {obs: obsD, sim: simD, start: [1990,1]},
  {obs: obsE, sim: simE, start: [1990,1]}
];

// ---------------- layout / style ----------------
const FONT = 'DejaVu Sans';
const X_MIN = 1989.95, X_MAX = 2023.87;
const Y_MIN = -3.0, Y_MAX = 2.93;
const gridTops = [17.3, 129.4, 241.5, 353.6, 465.7];
const gridH = 89, gridL = 26, gridR = 7.3;
const thresholdColors = ['#7d84d8','#a6b6ee','#d3e9f3','#c4c4c4','#ffd68e','#f4a79c','#d48a8a'];

function toPairs(vals, start) {
  return vals.map((v, i) => [start[0] + (start[1] - 1 + i) / 12, v]);
}
const fmtY = v => (v < 0 ? '\u2212' : '') + Math.abs(v).toFixed(1);

const grids = [], xAxes = [], yAxes = [], series = [], graphics = [];
panels.forEach((p, k) => {
  grids.push({left: gridL, right: gridR, top: gridTops[k], height: gridH, show: true,
    borderColor: '#3a3a3a', borderWidth: 0.8, backgroundColor: 'transparent', z: 10});
  xAxes.push({type: 'value', gridIndex: k, min: X_MIN, max: X_MAX,
    axisLine: {show: false},
    axisTick: {show: true, customValues: years, length: 3, lineStyle: {color: '#333', width: 0.8}},
    axisLabel: {show: k === 4, customValues: years, rotate: 60, fontSize: 7, color: '#222',
      fontFamily: FONT, margin: 4, formatter: v => String(Math.round(v))},
    splitLine: {show: false}});
  yAxes.push({type: 'value', gridIndex: k, min: Y_MIN, max: Y_MAX,
    axisLine: {show: false},
    axisTick: {show: true, customValues: yTickValues, length: 3, lineStyle: {color: '#333', width: 0.8}},
    axisLabel: {customValues: yTickValues, formatter: fmtY, fontSize: 7, color: '#222',
      fontFamily: FONT, margin: 5},
    splitLine: {show: false}});

  const bands = years.map(y => [{xAxis: Math.max(y - 0.25, X_MIN)}, {xAxis: Math.min(y + 0.25, X_MAX)}]);
  series.push({type: 'line', xAxisIndex: k, yAxisIndex: k, data: [[X_MIN, null]], symbol: 'none',
    silent: true, z: 1, animation: false, lineStyle: {opacity: 0},
    markArea: {silent: true, animation: false, itemStyle: {color: '#e6e6e6'}, data: bands},
    markLine: {silent: true, animation: false, symbol: ['none', 'none'], label: {show: false},
      data: thresholdLevels.map((v, i) => ({yAxis: v, lineStyle: {color: thresholdColors[i], width: 1.1, type: 'solid'}}))}
  });
  series.push({name: 'obs', type: 'line', xAxisIndex: k, yAxisIndex: k, data: toPairs(p.obs, p.start),
    symbol: 'circle', symbolSize: 1.7, showSymbol: true, connectNulls: false, animation: false, z: 3,
    lineStyle: {color: '#000', width: 0.7}, itemStyle: {color: '#000', borderWidth: 0}});
  series.push({name: 'sim', type: 'line', xAxisIndex: k, yAxisIndex: k, data: toPairs(p.sim, p.start),
    symbol: 'circle', symbolSize: 1.7, showSymbol: true, connectNulls: false, animation: false, z: 4,
    lineStyle: {color: '#ff0000', width: 0.7, type: [2.5, 1.5]}, itemStyle: {color: '#ff0000', borderWidth: 0}});

  graphics.push({type: 'text', x: gridL, y: gridTops[k] - 7,
    style: {text: panelLetters[k], fontSize: 9, fontFamily: FONT, fill: '#222', align: 'left', verticalAlign: 'middle'}});
  graphics.push({type: 'text', x: gridL + (500 - gridL - gridR) / 2, y: gridTops[k] - 7,
    style: {text: '{n|' + panelNames[k] + ' }{i|r}{n| = ' + rValues[k] + ', }{i|RMSE}{n| = ' + rmseValues[k] + '}',
      align: 'center', verticalAlign: 'middle', fill: '#222',
      rich: {n: {fontSize: 9, fontFamily: FONT, fill: '#222'}, i: {fontSize: 9, fontFamily: FONT, fontStyle: 'italic', fill: '#222'}}}});
});

const chart = echarts.init(document.getElementById('c'), null, {renderer: 'canvas'});
chart.setOption({
  animation: false,
  backgroundColor: '#fff',
  grid: grids, xAxis: xAxes, yAxis: yAxes, series: series,
  graphic: graphics,
  legend: {data: legendNames, left: 31, top: 21, orient: 'vertical', selectedMode: false,
    itemWidth: 20, itemHeight: 3, itemGap: 3, padding: [4, 4, 4, 3],
    borderColor: '#cccccc', borderWidth: 0.8, borderRadius: 3, backgroundColor: 'rgba(255,255,255,0.85)',
    textStyle: {fontSize: 9, fontFamily: FONT, color: '#222'}, z: 20}
});
</script></body></html>
